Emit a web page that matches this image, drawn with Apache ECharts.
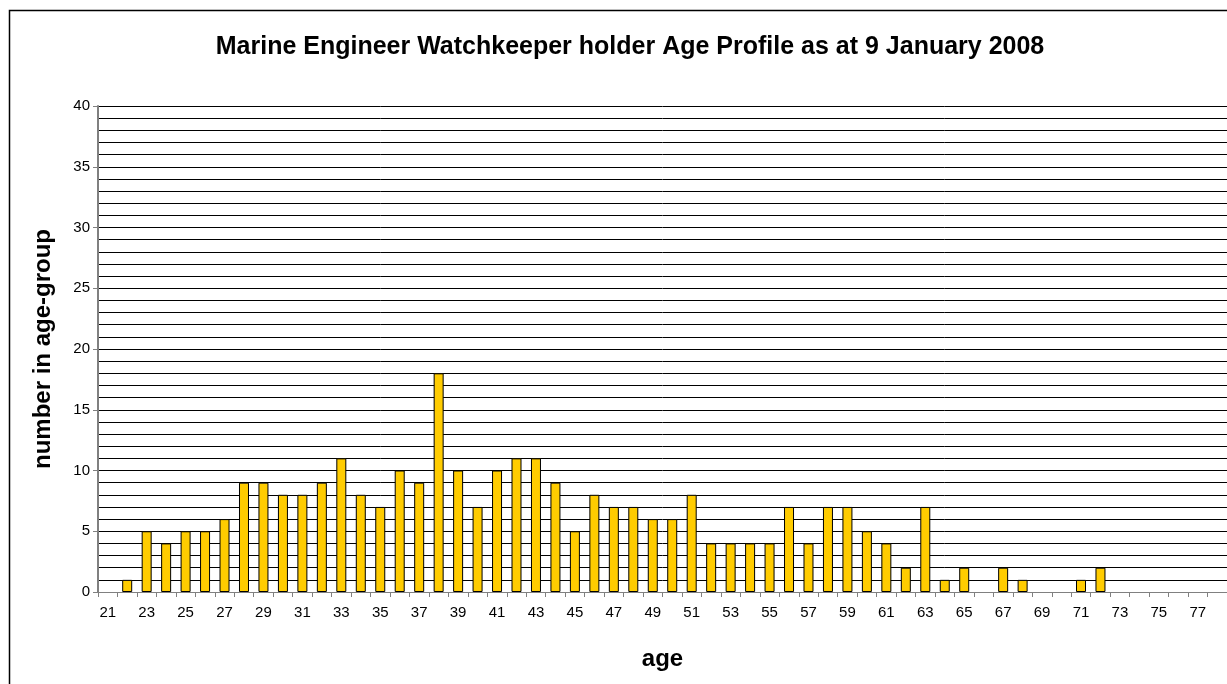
<!DOCTYPE html>
<html>
<head>
<meta charset="utf-8">
<script src="https://cdn.jsdelivr.net/npm/echarts@6/dist/echarts.min.js"></script>
<style>
html,body{margin:0;padding:0;background:#fff;}
#chart{width:1227px;height:684px;}
</style>
</head>
<body>
<div id="chart"></div>
<script>
const titleText = 'Marine Engineer Watchkeeper holder Age Profile as at 9 January 2008';
const xAxisName = 'age';
const yAxisName = 'number in age-group';
const ages = ['21','22','23','24','25','26','27','28','29','30','31','32','33','34','35','36','37','38','39','40','41','42','43','44','45','46','47','48','49','50','51','52','53','54','55','56','57','58','59','60','61','62','63','64','65','66','67','68','69','70','71','72','73','74','75','76','77','78'];
const counts = [0,1,5,4,5,5,6,9,9,8,8,9,11,8,7,10,9,18,10,7,10,11,11,9,5,8,7,7,6,6,8,4,4,4,4,7,4,7,7,5,4,2,7,1,2,0,2,1,0,0,1,2,0,0,0,0,0,0];

const chart = echarts.init(document.getElementById('chart'));
const font = 'Liberation Sans, Arial, sans-serif';
chart.setOption({
  animation: false,
  backgroundColor: '#fff',
  textStyle: { fontFamily: font },
  title: {
    text: titleText,
    left: 625, top: 30,
    textAlign: 'center',
    textStyle: { fontFamily: font, fontSize: 25, fontWeight: 'bold', color: '#000' }
  },
  graphic: [{
    type: 'rect', left: 7, top: 8, silent: true,
    shape: { width: 1240, height: 700 },
    style: { fill: 'none', stroke: '#000', lineWidth: 1.5 }
  }],
  grid: { left: 98, right: 0, top: 106, bottom: 92, containLabel: false },
  xAxis: {
    type: 'category',
    data: ages,
    boundaryGap: true,
    name: xAxisName,
    nameLocation: 'middle',
    nameGap: 55,
    nameTextStyle: { fontFamily: font, fontSize: 24, fontWeight: 'bold', color: '#000' },
    axisLine: { lineStyle: { color: '#808080', width: 1 } },
    axisTick: { show: true, interval: 0, length: 5, lineStyle: { color: '#808080' } },
    axisLabel: { interval: 1, fontSize: 15, color: '#000', fontFamily: font, margin: 13 },
    splitLine: { show: false }
  },
  yAxis: {
    type: 'value',
    min: 0, max: 40, interval: 5,
    name: yAxisName,
    nameLocation: 'middle',
    nameGap: 43,
    nameRotate: 90,
    nameTextStyle: { fontFamily: font, fontSize: 24, fontWeight: 'bold', color: '#000' },
    axisLine: { show: true, lineStyle: { color: '#808080', width: 2 } },
    axisTick: { show: true, length: 5, lineStyle: { color: '#808080' } },
    axisLabel: { fontSize: 15, color: '#000', fontFamily: font, margin: 8 },
    splitLine: { show: true, lineStyle: { color: '#000', width: 1 } },
    minorTick: { show: false, splitNumber: 5 },
    minorSplitLine: { show: true, lineStyle: { color: '#000', width: 1 } }
  },
  series: [{
    type: 'bar',
    data: counts.map(v => (v === 0 ? '-' : v)),
    barWidth: 10,
    itemStyle: { color: '#FFCC00', borderColor: '#000', borderWidth: 1 }
  }]
});
</script>
</body>
</html>
